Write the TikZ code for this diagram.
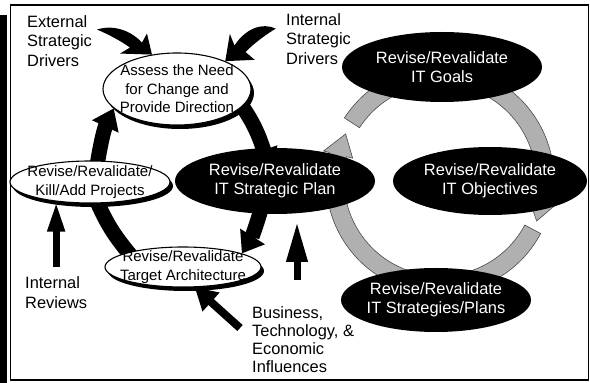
\documentclass[tikz,border=0pt]{standalone}
\usepackage{fontspec}
\setmainfont{Liberation Sans}
\usetikzlibrary{calc}
\usetikzlibrary{arrows.meta}
\usetikzlibrary{shadows}
\usetikzlibrary{backgrounds}
\usetikzlibrary{shapes.geometric}
\begin{document}
\begin{tikzpicture}[x=1pt,y=1pt,
 wht/.style={ellipse,draw,fill=white,line width=1.1pt,inner xsep=-14pt,inner ysep=-8pt,align=center,font=\fontsize{15}{18.5}\selectfont,drop shadow={opacity=1,fill=black,shadow xshift=3pt,shadow yshift=-4pt}},
 blk/.style={ellipse,fill=black,text=white,inner xsep=-14pt,inner ysep=-8pt,align=center,font=\fontsize{16.4}{19.5}\selectfont},
 lbl/.style={anchor=north west,inner sep=0pt,align=left,font=\fontsize{16.4}{19.5}\selectfont},
 cyc/.style={line width=15pt,-{Triangle[length=20pt,width=28pt]},shorten <=-6pt,bend left=8},
 band/.style={fill=gray!62,draw=black!70,line width=0.6pt}]
\useasboundingbox (0,0) rectangle (590,383);
\fill (0,0) rectangle (7,368);
\draw[line width=1.1pt] (10.5,3) rectangle (588.5,378);
\node[wht,minimum width=148pt,minimum height=72pt] (assess) at (177,294) {Assess the Need\\for Change and\\Provide Direction};
\node[wht,minimum width=160pt,minimum height=42pt] (kill) at (90,201) {Revise/Revalidate/\\Kill/Add Projects};
\node[wht,minimum width=156pt,minimum height=40pt] (ta) at (183,116) {Revise/Revalidate\\Target Architecture};
\node[blk,minimum width=200pt,minimum height=66pt] (plan) at (275,202) {Revise/Revalidate\\IT Strategic Plan};
\node[blk,minimum width=200pt,minimum height=70pt] (goals) at (442,316) {Revise/Revalidate\\IT Goals};
\node[blk,minimum width=194pt,minimum height=68pt] (obj) at (490,202) {Revise/Revalidate\\IT Objectives};
\node[blk,minimum width=190pt,minimum height=64pt] (strat) at (436,83) {Revise/Revalidate\\IT Strategies/Plans};
\node[lbl] (ext) at (27,368) {External\\Strategic\\Drivers};
\node[lbl] (intdrv) at (286,370) {Internal\\Strategic\\Drivers};
\node[lbl,font=\fontsize{16.4}{20}\selectfont] (intrev) at (25,107) {Internal\\Reviews};
\node[lbl,font=\fontsize{16.4}{18.3}\selectfont] (bus) at (252,77) {Business,\\Technology, \&\\Economic\\Influences};
\begin{scope}[on background layer]
\coordinate (ring) at (440,203);
\begin{scope}[shift={(ring)}]
\draw[band] (147:114) arc[start angle=147,end angle=-11,radius=114] -- (-11:120) -- (-23:105) -- (-11:90) -- (-11:96) arc[start angle=-11,end angle=147,radius=96] -- cycle;
\draw[band] (-28:114) arc[start angle=-28,end angle=-194,radius=114] -- (-194:120) -- (-206:105) -- (-194:90) -- (-194:96) arc[start angle=-194,end angle=-28,radius=96] -- cycle;
\end{scope}
\draw[cyc] (kill.70) to (assess.197);
\draw[cyc,shorten >=-22pt] (assess.-15) to (plan.110);
\draw[cyc] (plan.245) to (ta.13);
\draw[cyc,shorten >=-24pt] (ta.165) to (kill.-70);
\draw[line width=7pt,-{Triangle[length=30pt,width=16pt]},shorten <=9pt] (intrev.north -| kill.210) -- (kill.210);
\coordinate (busTail) at (297,103);
\coordinate (busTip) at (297,161);
\draw[line width=7pt,-{Triangle[length=40pt,width=20pt]}] (busTail) -- (busTip);
\coordinate (busFoot) at (240,55);
\draw[line width=8pt,-{Triangle[length=22pt,width=24pt]}] (busFoot) -- (ta.-60);
\end{scope}
\begin{scope}[shift={(assess.126)}]
\fill (-55,25) .. controls (-40,30) and (-22,25) .. (-10,12) -- (-5,21) -- (0,0) -- (-32,1) -- (-22,7) .. controls (-30,13) and (-45,21) .. (-55,25) -- cycle;
\end{scope}
\begin{scope}[shift={(assess.30)},xscale=-0.92,yscale=1.3]
\fill (-55,25) .. controls (-40,30) and (-22,25) .. (-10,12) -- (-5,21) -- (0,0) -- (-32,1) -- (-22,7) .. controls (-30,13) and (-45,21) .. (-55,25) -- cycle;
\end{scope}
\end{tikzpicture}
\end{document}
